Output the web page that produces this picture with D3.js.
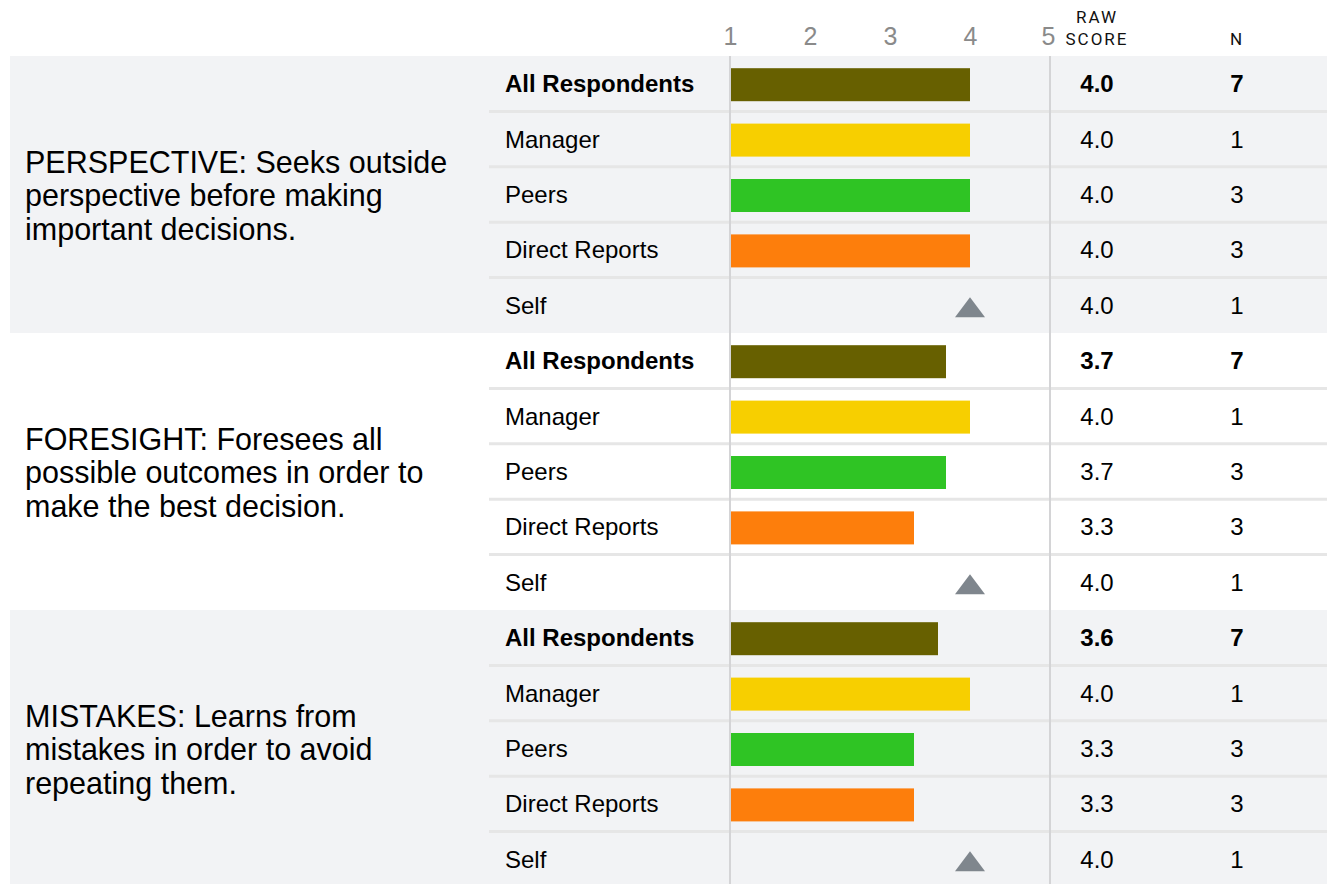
<!DOCTYPE html>
<html lang="en">
<head>
    <meta charset="UTF-8">
    <title>Rater scores by competency</title>
    <script src="https://d3js.org/d3.v7.min.js"></script>
    <style>
        body {
            margin: 0;
            background: #fff;
            font-family: "Liberation Sans", Arial, sans-serif;
        }
        svg { display: block; }
    </style>
</head>
<body>
    <svg width="1327" height="884"></svg>
    <script>
        // Chart data
        const groupLabels = [
            ["PERSPECTIVE: Seeks outside", "perspective before making", "important decisions."],
            ["FORESIGHT: Foresees all", "possible outcomes in order to", "make the best decision."],
            ["MISTAKES: Learns from", "mistakes in order to avoid", "repeating them."]
        ];
        const raters = ["All Respondents", "Manager", "Peers", "Direct Reports", "Self"];
        const scores = [
            [4.0, 4.0, 4.0, 4.0, 4.0],
            [3.7, 4.0, 3.7, 3.3, 4.0],
            [3.6, 4.0, 3.3, 3.3, 4.0]
        ];
        const counts = [
            [7, 1, 3, 3, 1],
            [7, 1, 3, 3, 1],
            [7, 1, 3, 3, 1]
        ];
        const tickValues = [1, 2, 3, 4, 5];
        const raterColors = ["#676000", "#f7cf00", "#2fc424", "#fd7e0c", "#7f868d"];

        const svg = d3.select("svg");
        const W = +svg.attr("width");

        // scales
        const x = d3.scaleLinear().domain([1, 5]).range([730, 1050]);
        const yGroup = d3.scaleBand().domain(d3.range(groupLabels.length)).range([56, 887]);
        const yRow = d3.scaleBand().domain(d3.range(raters.length)).range([0, yGroup.bandwidth()]);
        const scoreX = 1097, countX = 1237;

        // group backgrounds (alternating)
        const groups = svg.selectAll(".group")
            .data(groupLabels)
            .enter().append("g")
            .attr("class", "group")
            .attr("transform", (d, i) => `translate(0,${yGroup(i)})`);

        groups.append("rect")
            .attr("x", 10)
            .attr("width", W - 10)
            .attr("height", yGroup.bandwidth())
            .attr("fill", (d, i) => i % 2 === 0 ? "#f2f3f5" : "#fff");

        // row separators
        groups.selectAll(".sep")
            .data(d3.range(1, raters.length))
            .enter().append("line")
            .attr("x1", 489)
            .attr("x2", W)
            .attr("y1", r => yRow(r))
            .attr("y2", r => yRow(r))
            .attr("stroke", "#e6e6e6")
            .attr("stroke-width", 3);

        // group label text
        groups.append("text")
            .attr("font-size", 30.5)
            .attr("fill", "#000")
            .each(function(lines) {
                const t = d3.select(this);
                const lh = 33.5;
                const y0 = yGroup.bandwidth() / 2 - (lines.length - 1) * lh / 2 + 11.5;
                lines.forEach((ln, k) => {
                    t.append("tspan").attr("x", 25).attr("y", y0 + k * lh).text(ln);
                });
            });

        // rows
        groups.each(function(lbl, gi) {
            const g = d3.select(this);
            const rows = g.selectAll(".row")
                .data(raters.map((r, ri) => ({ rater: r, ri: ri, score: scores[gi][ri], n: counts[gi][ri] })))
                .enter().append("g")
                .attr("class", "row")
                .attr("transform", d => `translate(0,${yRow(d.ri) + yRow.bandwidth() / 2})`);

            rows.append("text")
                .attr("x", 505)
                .attr("y", 8.5)
                .attr("font-size", 24)
                .attr("font-weight", d => d.ri === 0 ? "bold" : "normal")
                .text(d => d.rater);

            rows.filter(d => d.rater !== "Self").append("rect")
                .attr("x", x(1))
                .attr("y", -15.5)
                .attr("height", 33)
                .attr("width", d => x(d.score) - x(1))
                .attr("fill", d => raterColors[d.ri]);

            rows.filter(d => d.rater === "Self").append("path")
                .attr("d", d => {
                    const cx = x(d.score);
                    return `M${cx - 15},12 L${cx},-8 L${cx + 15},12 Z`;
                })
                .attr("fill", d => raterColors[d.ri]);

            rows.append("text")
                .attr("x", scoreX)
                .attr("y", 8.5)
                .attr("text-anchor", "middle")
                .attr("font-size", 24)
                .attr("font-weight", d => d.ri === 0 ? "bold" : "normal")
                .text(d => d3.format(".1f")(d.score));

            rows.append("text")
                .attr("x", countX)
                .attr("y", 8.5)
                .attr("text-anchor", "middle")
                .attr("font-size", 24)
                .attr("font-weight", d => d.ri === 0 ? "bold" : "normal")
                .text(d => d.n);
        });

        // vertical rules at scale ends
        svg.selectAll(".rule")
            .data([1, 5])
            .enter().append("line")
            .attr("x1", d => x(d))
            .attr("x2", d => x(d))
            .attr("y1", 56)
            .attr("y2", 884)
            .attr("stroke", "#d4d4d6")
            .attr("stroke-width", 2);

        // top axis of scale values
        const axis = svg.append("g")
            .attr("transform", "translate(0,44.5)")
            .call(d3.axisTop(x).tickValues(tickValues).tickSize(0).tickPadding(0).tickFormat(d3.format("d")));
        axis.select(".domain").remove();
        axis.selectAll("text")
            .attr("font-family", "'Liberation Sans', Arial, sans-serif")
            .attr("font-size", 25)
            .attr("fill", "#8a8a8a")
            .attr("dy", 0)
            .attr("y", 0);
        axis.selectAll(".tick").filter(d => d === 5).select("text").attr("dx", -2);

        // column headers
        const hdr = svg.append("g")
            .attr("font-family", "Roboto, sans-serif")
            .attr("font-size", 17)
            .attr("letter-spacing", 2)
            .attr("fill", "#111")
            .attr("text-anchor", "middle");
        hdr.append("text").attr("x", scoreX).attr("y", 23).text("RAW");
        hdr.append("text").attr("x", scoreX).attr("y", 45).text("SCORE");
        hdr.append("text").attr("x", countX).attr("y", 45).text("N");
    </script>
</body>
</html>
